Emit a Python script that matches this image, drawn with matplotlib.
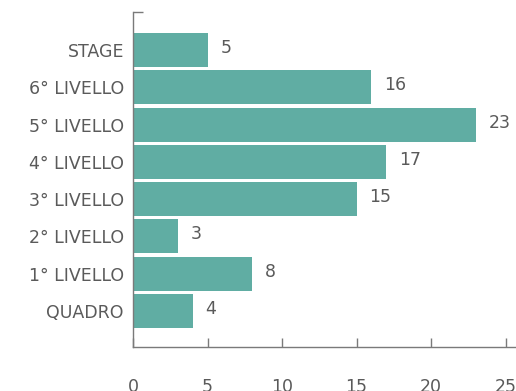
import matplotlib
matplotlib.use("Agg")
import matplotlib.pyplot as plt

# livelli, dal basso verso l'alto
categories = ["QUADRO", "1° LIVELLO", "2° LIVELLO", "3° LIVELLO",
              "4° LIVELLO", "5° LIVELLO", "6° LIVELLO", "STAGE"]
values = [4, 8, 3, 15, 17, 23, 16, 5]
xticks = [0, 5, 10, 15, 20, 25]

bar_color = "#60ada3"
text_color = "#5a5a5a"
axis_color = "#7a7a7a"

plt.rcParams["font.family"] = ["DejaVu Sans"]

fig = plt.figure(figsize=(5.16, 3.91), dpi=100)
ax = fig.add_axes([0.2578, 0.1125, 0.7422, 0.8568])

pos = list(range(len(categories)))
ax.barh(pos, values, height=0.91, color=bar_color)

for p, v in zip(pos, values):
    ax.annotate(str(v), (v, p), xytext=(13, 2), textcoords="offset pixels",
                ha="left", va="center", fontsize=12.5, color=text_color)

ax.set_xlim(0, 25.7)
ax.set_ylim(-0.965, 8.02)

ax.set_yticks(pos)
ax.set_yticklabels(categories)
ax.set_yticks([8.02], minor=True)
ax.tick_params(axis="y", which="major", length=0, pad=6.5,
               labelsize=12.5, labelcolor=text_color)
ax.tick_params(axis="y", which="minor", direction="in", length=7,
               color=axis_color, width=1)

ax.set_xticks(xticks)
ax.tick_params(axis="x", direction="in", length=6.5, width=1,
               color=axis_color, pad=22, labelsize=12.5,
               labelcolor=text_color)

for side in ["top", "right"]:
    ax.spines[side].set_visible(False)
for side in ["left", "bottom"]:
    ax.spines[side].set_color(axis_color)
    ax.spines[side].set_linewidth(1)

fig.savefig("out.png", dpi=100)
